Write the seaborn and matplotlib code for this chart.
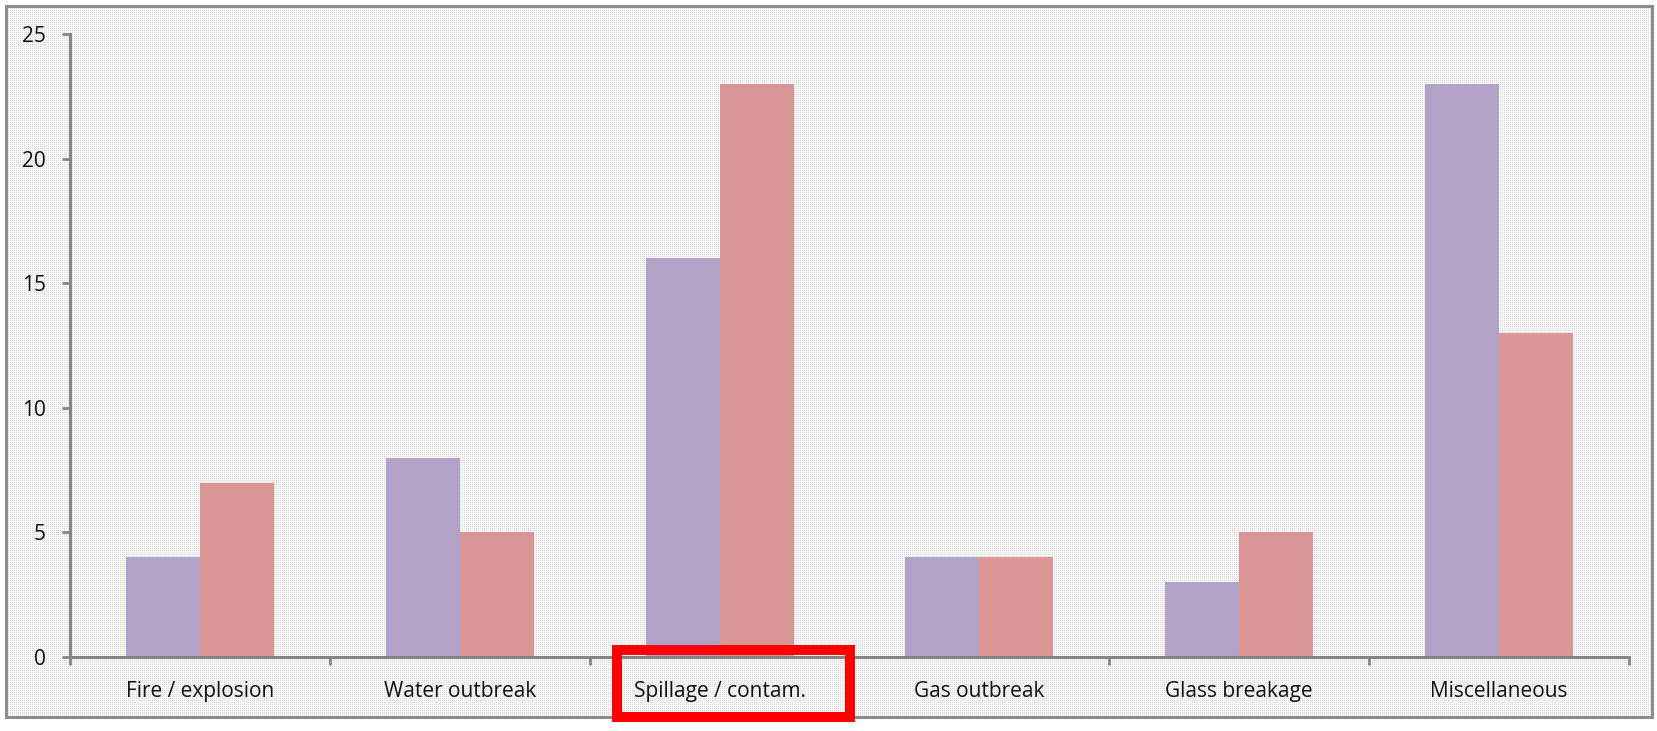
import numpy as np
import pandas as pd
import matplotlib
matplotlib.use("Agg")
import matplotlib.pyplot as plt
import seaborn as sns
from matplotlib.patches import Rectangle

categories = ["Fire / explosion", "Water outbreak", "Spillage / contam.",
              "Gas outbreak", "Glass breakage", "Miscellaneous"]
series_a = [4, 8, 16, 4, 3, 23]
series_b = [7, 5, 23, 4, 5, 13]
series_names = ["Series 1", "Series 2"]
y_ticks = [0, 5, 10, 15, 20, 25]

df = pd.DataFrame({
    "category": categories * 2,
    "value": series_a + series_b,
    "series": [series_names[0]] * len(categories) + [series_names[1]] * len(categories),
})

sns.set_style("white")
plt.rcParams["font.family"] = ["Open Sans", "DejaVu Sans"]

W, H = 1657, 731
fig = plt.figure(figsize=(W / 100, H / 100), dpi=100)
fig.patch.set_facecolor("white")

# dotted background inside the frame
bx0, by0, bx1, by1 = 6, 6, 1652, 717
ph, pw = by1 - by0, bx1 - bx0
yy, xx = np.mgrid[0:ph, 0:pw]
pat = np.where(((xx % 2) == 0) & ((yy % 2) == 0), 0.86, 0.97)
img = np.dstack([pat, pat, pat])
fig.figimage(img, xo=bx0, yo=H - by1, origin="upper", zorder=-5)

ax = fig.add_axes([70 / W, 1 - 657 / H, (1629 - 70) / W, (657 - 34) / H])
ax.set_facecolor("none")
ax.set_zorder(1)

sns.barplot(data=df, x="category", y="value", hue="series",
            palette=["#B3A2C7", "#D99694"], width=0.57, saturation=1,
            ax=ax, legend=False, linewidth=0)

ax.set_xlim(-0.5, len(categories) - 0.5)
ax.set_ylim(0, 25)
ax.set_yticks(y_ticks)
ax.set_xlabel("")
ax.set_ylabel("")

ax.set_xticks(np.arange(len(categories)))
ax.set_xticklabels(categories, fontsize=15, color="#111111")
ax.set_xticks(np.arange(len(categories) + 1) - 0.5, minor=True)
ax.tick_params(axis="x", which="major", bottom=True, length=0, pad=17)
ax.tick_params(axis="x", which="minor", bottom=True, length=5.5, width=2,
               color="#868686", direction="out")
ax.tick_params(axis="y", left=True, length=5.5, width=2, color="#868686", direction="out",
               labelsize=15, labelcolor="#111111", pad=12)

for s in ["top", "right"]:
    ax.spines[s].set_visible(False)
for s in ["left", "bottom"]:
    ax.spines[s].set_color("#868686")
    ax.spines[s].set_linewidth(2.2)

# outer frame
fig.patches.append(Rectangle((bx0 / W, 1 - by1 / H), (bx1 - bx0) / W, (by1 - by0) / H,
                             transform=fig.transFigure, fill=False,
                             edgecolor="#8c8c8c", linewidth=2.2, zorder=5))

# red highlight box around a label
fig.patches.append(Rectangle((617 / W, 1 - 717 / H), (850 - 617) / W, (717 - 650) / H,
                             transform=fig.transFigure, fill=False,
                             edgecolor="#FF0000", linewidth=7.2, zorder=6))

fig.savefig("out.png", dpi=100, facecolor="white")
